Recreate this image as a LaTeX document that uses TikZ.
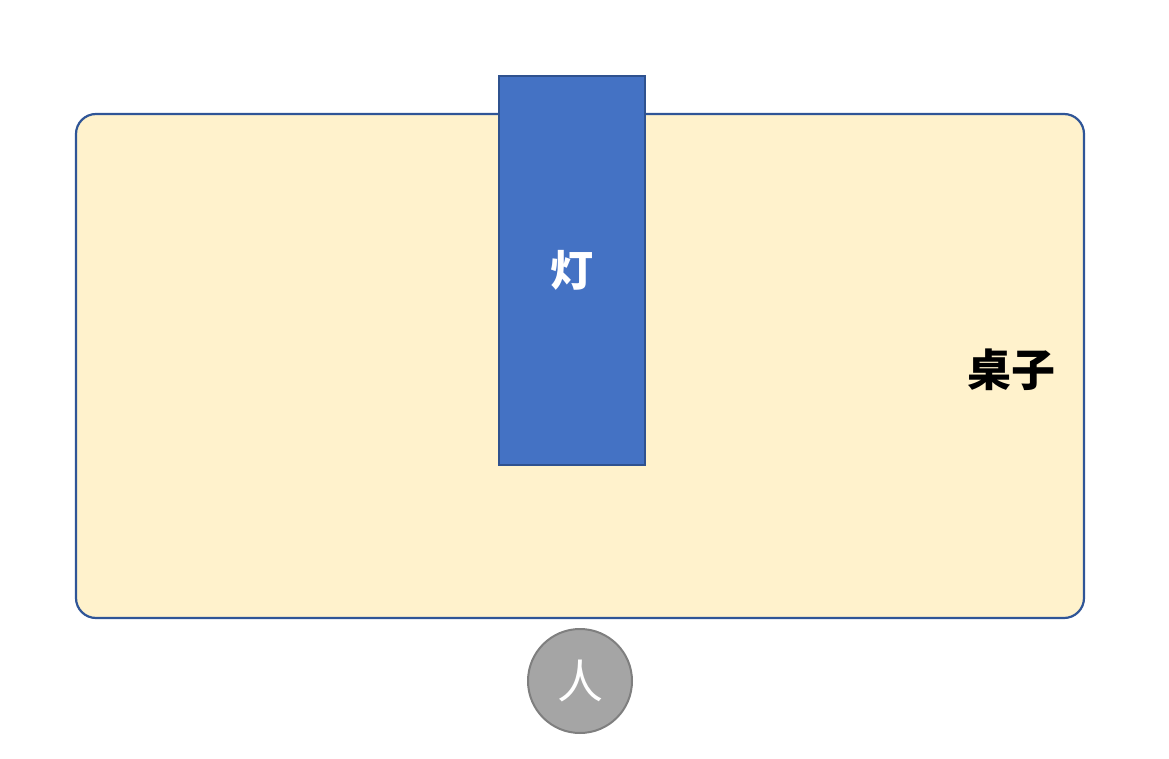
\documentclass[tikz,border=0pt]{standalone}
\usepackage{fontspec}
\newfontfamily\cjk{Noto Sans CJK SC}
\usepackage{tikz}
\usetikzlibrary{positioning,
           calc}
\definecolor{deskfill}{RGB}{255,242,204}
\definecolor{deskline}{RGB}{47,85,151}
\definecolor{lampfill}{RGB}{68,114,196}
\definecolor{lampline}{RGB}{47,82,143}
\definecolor{manfill}{RGB}{165,165,165}
\definecolor{manline}{RGB}{127,127,127}

\begin{document}
\begin{tikzpicture}[x=1pt,y=-1pt,
  desk/.style={draw=deskline,fill=deskfill,line width=2.2pt,rounded corners=20pt,inner sep=0,
      minimum width=1008pt,minimum height=504pt},
  lampbox/.style={draw=lampline,fill=lampfill,line width=1.6pt,inner sep=0,
      minimum width=146pt,minimum height=389pt},
  man/.style={circle,draw=manline,fill=manfill,line width=2pt,inner sep=0,minimum size=104pt}]
\useasboundingbox (0,0) rectangle (1169,759);
\node[desk](table) at (580,366){};
\node[lampbox](lamp) at (572,270.5){};
\node[text=white,font=\cjk\bfseries\fontsize{43}{45}\selectfont](light) at (lamp.center){灯};
\node[font=\cjk\bfseries\fontsize{44}{46}\selectfont,anchor=east,inner sep=0](desklabel) at (1056,370){桌子};
\node[man,font=\cjk\fontsize{46}{48}\selectfont,text=white](person) at (580,681){人};
\end{tikzpicture}
\end{document}
